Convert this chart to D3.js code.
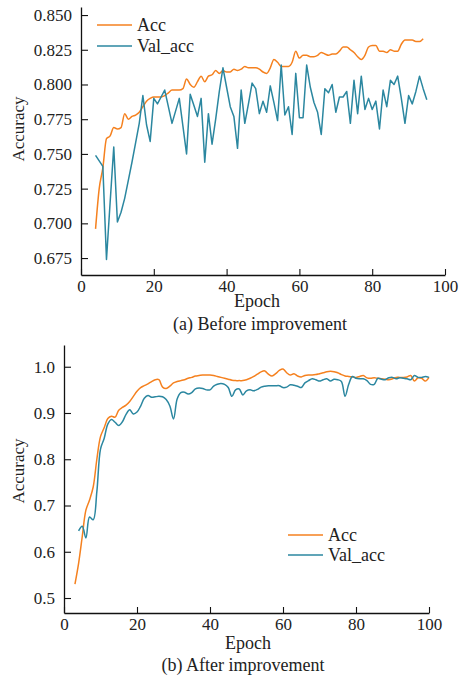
<!DOCTYPE html>
<html>
<head>
	<meta charset="utf-8">
	<title>Accuracy before / after improvement</title>
	<script src="https://d3js.org/d3.v7.min.js"></script>
	<style>
		body {
		    margin: 0;
		    background: #fff;
		    font-family: "Liberation Serif", "Times New Roman", serif;
		}
		.tick text { font-size: 17px; fill: #222; }
		.lbl { font-size: 18px; fill: #222; }
	</style>
</head>
<body>
	<script>
		// ---- data ----
		var seriesNames = ["Acc", "Val_acc"];
		var xTicks = [0, 20, 40, 60, 80, 100];
		var yTicksTop = [0.675, 0.700, 0.725, 0.750, 0.775, 0.800, 0.825, 0.850];
		var yTicksBot = [0.5, 0.6, 0.7, 0.8, 0.9, 1.0];

		// (a) before improvement
		var epochTopAcc = d3.range(4, 95);
		var topAcc = [
			0.696, 0.725, 0.740, 0.761, 0.763, 0.769, 0.768, 0.769, 0.779, 0.775,
			0.777, 0.778, 0.780, 0.784, 0.788, 0.790, 0.791, 0.791, 0.791, 0.792,
			0.794, 0.796, 0.796, 0.796, 0.797, 0.804, 0.800, 0.798, 0.802, 0.806,
			0.802, 0.806, 0.807, 0.810, 0.808, 0.810, 0.809, 0.809, 0.811, 0.810,
			0.811, 0.813, 0.812, 0.812, 0.812, 0.811, 0.809, 0.808, 0.812, 0.818,
			0.816, 0.813, 0.813, 0.813, 0.816, 0.824, 0.819, 0.821, 0.821, 0.820,
			0.820, 0.821, 0.823, 0.822, 0.821, 0.822, 0.822, 0.824, 0.827, 0.827,
			0.825, 0.823, 0.820, 0.818, 0.821, 0.827, 0.828, 0.828, 0.824, 0.824,
			0.823, 0.825, 0.824, 0.824, 0.829, 0.832, 0.832, 0.832, 0.831, 0.831,
			0.833
		];
		var epochTopVal = d3.range(4, 96);
		var topVal = [
			0.749, 0.745, 0.741, 0.674, 0.715, 0.755, 0.701, 0.708, 0.718, 0.731,
			0.744, 0.758, 0.772, 0.792, 0.771, 0.759, 0.790, 0.786, 0.791, 0.796,
			0.784, 0.772, 0.781, 0.790, 0.770, 0.750, 0.793, 0.785, 0.777, 0.790,
			0.744, 0.779, 0.757, 0.775, 0.795, 0.812, 0.798, 0.784, 0.777, 0.754,
			0.796, 0.772, 0.786, 0.801, 0.797, 0.779, 0.788, 0.780, 0.799, 0.787,
			0.774, 0.814, 0.778, 0.784, 0.764, 0.808, 0.776, 0.776, 0.814, 0.798,
			0.787, 0.780, 0.764, 0.797, 0.794, 0.800, 0.780, 0.791, 0.791, 0.795,
			0.772, 0.803, 0.779, 0.806, 0.782, 0.790, 0.782, 0.788, 0.768, 0.796,
			0.784, 0.803, 0.800, 0.806, 0.790, 0.772, 0.792, 0.786, 0.795, 0.806,
			0.797, 0.789
		];

		// (b) after improvement
		var epochBotAcc = d3.range(3, 101);
		var botAcc = [
			0.530, 0.575, 0.633, 0.690, 0.712, 0.740, 0.800, 0.849, 0.868, 0.888,
			0.893, 0.891, 0.906, 0.912, 0.917, 0.925, 0.936, 0.947, 0.955, 0.959,
			0.963, 0.968, 0.972, 0.972, 0.956, 0.953, 0.958, 0.965, 0.968, 0.970,
			0.972, 0.975, 0.977, 0.980, 0.981, 0.982, 0.982, 0.982, 0.981, 0.979,
			0.977, 0.975, 0.973, 0.971, 0.970, 0.970, 0.970, 0.972, 0.975, 0.979,
			0.984, 0.989, 0.991, 0.984, 0.980, 0.985, 0.992, 0.995, 0.987, 0.982,
			0.985, 0.980, 0.978, 0.981, 0.982, 0.982, 0.983, 0.985, 0.987, 0.989,
			0.990, 0.989, 0.987, 0.983, 0.980, 0.979, 0.978, 0.977, 0.979, 0.981,
			0.976, 0.975, 0.976, 0.975, 0.974, 0.973, 0.972, 0.974, 0.977, 0.977,
			0.977, 0.978, 0.981, 0.969, 0.976, 0.975, 0.969, 0.977
		];
		var epochBotVal = d3.range(4, 101);
		var botVal = [
			0.645, 0.655, 0.630, 0.675, 0.669, 0.730, 0.822, 0.845, 0.876, 0.886,
			0.880, 0.873, 0.881, 0.897, 0.907, 0.898, 0.902, 0.915, 0.932, 0.938,
			0.934, 0.935, 0.936, 0.935, 0.929, 0.915, 0.887, 0.930, 0.944, 0.945,
			0.941, 0.944, 0.952, 0.954, 0.953, 0.950, 0.950, 0.958, 0.962, 0.964,
			0.962, 0.955, 0.936, 0.950, 0.952, 0.939, 0.948, 0.950, 0.948, 0.951,
			0.956, 0.958, 0.959, 0.959, 0.959, 0.959, 0.955, 0.956, 0.961, 0.960,
			0.958, 0.955, 0.965, 0.970, 0.974, 0.972, 0.969, 0.972, 0.974, 0.969,
			0.973, 0.972, 0.968, 0.936, 0.962, 0.979, 0.975, 0.974, 0.974, 0.970,
			0.962, 0.962, 0.975, 0.973, 0.972, 0.976, 0.977, 0.974, 0.976, 0.975,
			0.974, 0.972, 0.981, 0.977, 0.977, 0.979, 0.977
		];

		var orange = "#f5811f";
		var teal = "#2b87a0";

		var width = 461;
		var height = 677;

		var svg = d3.select("body")
		    .append("svg")
		    .attr("width", width)
		    .attr("height", height);

		// draws one panel: axes, two lines, legend, labels
		function panel(opt) {
		    var x = d3.scaleLinear().domain([0, 100]).range([opt.left, opt.right]);
		    var y = d3.scaleLinear().domain(opt.yDomain).range([opt.bottom, opt.top]);
		    var g = svg.append("g");

		    var xAxis = g.append("g")
		        .attr("transform", "translate(0," + opt.bottom + ")")
		        .call(d3.axisBottom(x).tickValues(xTicks).tickSizeInner(-6).tickSizeOuter(0).tickPadding(5));
		    var yAxis = g.append("g")
		        .attr("transform", "translate(" + opt.left + ",0)")
		        .call(d3.axisLeft(y).tickValues(opt.yTicks).tickFormat(d3.format(opt.fmt))
		            .tickSizeInner(-7).tickSizeOuter(0).tickPadding(9));

		    [xAxis, yAxis].forEach(function(a) {
		        a.attr("font-family", null).attr("font-size", null);
		        a.select(".domain").attr("stroke", "#111").attr("stroke-width", 1.3);
		        a.selectAll(".tick line").attr("stroke", "#111").attr("stroke-width", 1.1);
		    });

		    var lines = [
		        { ep: opt.accEp, v: opt.acc, c: orange, curve: opt.accCurve },
		        { ep: opt.valEp, v: opt.val, c: teal, curve: opt.valCurve }
		    ];
		    lines.forEach(function(s) {
		        var line = d3.line()
		            .x(function(d, i) { return x(s.ep[i]); })
		            .y(function(d) { return y(d); })
		            .curve(s.curve);
		        g.append("path")
		            .attr("d", line(s.v))
		            .attr("fill", "none")
		            .attr("stroke", s.c)
		            .attr("stroke-width", 1.5)
		            .attr("stroke-linejoin", "round");
		    });

		    // legend
		    seriesNames.forEach(function(name, i) {
		        var ly = opt.legY + i * opt.legGap;
		        g.append("line")
		            .attr("x1", opt.legX).attr("x2", opt.legX + 35)
		            .attr("y1", ly).attr("y2", ly)
		            .attr("stroke", i == 0 ? orange : teal)
		            .attr("stroke-width", 1.5);
		        g.append("text")
		            .attr("class", "lbl")
		            .attr("x", opt.legX + 40)
		            .attr("y", ly + 6)
		            .text(name);
		    });

		    g.append("text")
		        .attr("class", "lbl")
		        .attr("text-anchor", "middle")
		        .attr("transform", "translate(24," + opt.ylabY + ") rotate(-90)")
		        .style("font-size", "17px")
		        .text("Accuracy");

		    g.append("text")
		        .attr("class", "lbl")
		        .attr("text-anchor", "middle")
		        .attr("x", opt.epochX).attr("y", opt.epochY)
		        .text("Epoch");

		    g.append("text")
		        .attr("class", "lbl")
		        .attr("text-anchor", "middle")
		        .attr("x", opt.capX).attr("y", opt.capY)
		        .text(opt.caption);
		}

		panel({
		    left: 81, right: 445, top: 7, bottom: 275,
		    yDomain: [0.6628, 0.8558], yTicks: yTicksTop, fmt: ".3f",
		    accEp: epochTopAcc, acc: topAcc, accCurve: d3.curveMonotoneX,
		    valEp: epochTopVal, val: topVal, valCurve: d3.curveLinear,
		    legX: 97, legY: 25, legGap: 21,
		    ylabY: 129, epochX: 257, epochY: 307,
		    capX: 260, capY: 330, caption: "(a) Before improvement"
		});

		panel({
		    left: 64, right: 429, top: 345, bottom: 613,
		    yDomain: [0.4676, 1.047], yTicks: yTicksBot, fmt: ".1f",
		    accEp: epochBotAcc, acc: botAcc, accCurve: d3.curveCatmullRom,
		    valEp: epochBotVal, val: botVal, valCurve: d3.curveCatmullRom,
		    legX: 288, legY: 535, legGap: 20,
		    ylabY: 471, epochX: 248, epochY: 649,
		    capX: 243, capY: 671, caption: "(b) After improvement"
		});
	</script>
</body>
</html>
